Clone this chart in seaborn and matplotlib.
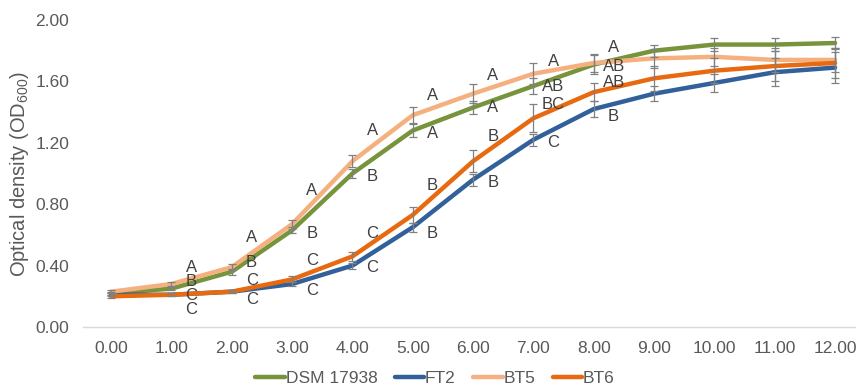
import numpy as np
import pandas as pd
import matplotlib
matplotlib.use('Agg')
import matplotlib.pyplot as plt
import seaborn as sns

# NOTE: growth curves, OD600
hours = [0, 1, 2, 3, 4, 5, 6, 7, 8, 9, 10, 11, 12]
strains = ['DSM 17938', 'FT2', 'BT5', 'BT6']

od_dsm = [0.22, 0.25, 0.36, 0.63, 1.00, 1.28, 1.43, 1.57, 1.71, 1.80, 1.84, 1.84, 1.85]
od_ft2 = [0.21, 0.21, 0.23, 0.28, 0.40, 0.65, 0.96, 1.22, 1.42, 1.52, 1.59, 1.66, 1.69]
od_bt5 = [0.23, 0.28, 0.39, 0.67, 1.08, 1.38, 1.52, 1.65, 1.72, 1.75, 1.76, 1.74, 1.74]
od_bt6 = [0.20, 0.21, 0.23, 0.31, 0.46, 0.73, 1.08, 1.36, 1.53, 1.62, 1.67, 1.70, 1.72]

err_dsm = [0.01, 0.01, 0.02, 0.02, 0.03, 0.04, 0.04, 0.05, 0.06, 0.04, 0.04, 0.04, 0.04]
err_ft2 = [0.01, 0.01, 0.01, 0.01, 0.02, 0.03, 0.04, 0.04, 0.05, 0.05, 0.06, 0.09, 0.10]
err_bt5 = [0.01, 0.01, 0.02, 0.03, 0.04, 0.05, 0.06, 0.07, 0.06, 0.06, 0.06, 0.08, 0.08]
err_bt6 = [0.01, 0.01, 0.01, 0.02, 0.03, 0.05, 0.07, 0.09, 0.06, 0.08, 0.08, 0.10, 0.10]

# NOTE: significance letters per time point (hour, letter, y of the letter)
letter_hours = [1, 1, 1, 1, 2, 2, 2, 2, 3, 3, 3, 3, 4, 4, 4, 4,
                5, 5, 5, 5, 6, 6, 6, 6, 7, 7, 7, 7, 8, 8, 8, 8]
letters = ['A', 'B', 'C', 'C', 'A', 'B', 'C', 'C', 'A', 'B', 'C', 'C', 'A', 'B', 'C', 'C',
           'A', 'A', 'B', 'B', 'A', 'A', 'B', 'B', 'A', 'AB', 'BC', 'C', 'A', 'AB', 'AB', 'B']
letter_y = [0.385, 0.295, 0.205, 0.115, 0.58, 0.42, 0.30, 0.18, 0.89, 0.61, 0.43, 0.24,
            1.28, 0.98, 0.61, 0.39, 1.51, 1.26, 0.92, 0.61, 1.64, 1.43, 1.24, 0.94,
            1.73, 1.57, 1.45, 1.20, 1.82, 1.70, 1.59, 1.37]

colores = {'DSM 17938': '#77933C', 'FT2': '#31609A', 'BT5': '#F5B080', 'BT6': '#E86A10'}

df = pd.DataFrame({
    'hora': hours * 4,
    'od': od_dsm + od_ft2 + od_bt5 + od_bt6,
    'err': err_dsm + err_ft2 + err_bt5 + err_bt6,
    'cepa': sum([[s] * len(hours) for s in strains], []),
})

sns.set_theme(style='white')
plt.rcParams['font.family'] = ['Liberation Sans', 'DejaVu Sans']
plt.rcParams['mathtext.fontset'] = 'custom'
plt.rcParams['mathtext.rm'] = 'Liberation Sans'
gris = '#595959'

fig = plt.figure(figsize=(8.58, 3.89), dpi=100)
ax = fig.add_axes([83 / 858, 1 - 327 / 389, (855 - 83) / 858, (327 - 20) / 389])

sns.lineplot(data=df, x='hora', y='od', hue='cepa', palette=colores, hue_order=strains,
             linewidth=3.2, ax=ax, sort=False, legend=True, zorder=2)

for s in strains:
    d = df[df['cepa'] == s]
    ax.errorbar(d['hora'], d['od'], yerr=d['err'], fmt='none', ecolor='#808080',
                elinewidth=0.9, capsize=3, capthick=0.9, zorder=3)

for h, t, y in zip(letter_hours, letters, letter_y):
    ax.text(h + 0.33, y, t, ha='center', va='center', fontsize=12, color='#404040', zorder=4)

ax.set_xlim(-0.465, 12.33)
ax.set_ylim(0, 2.0)
ax.set_xticks(hours)
ax.set_xticklabels([f'{h:.2f}' for h in hours])
ax.set_yticks([0, 0.4, 0.8, 1.2, 1.6, 2.0])
ax.set_yticklabels([f'{v:.2f}' for v in [0, 0.4, 0.8, 1.2, 1.6, 2.0]])
ax.tick_params(axis='both', length=0, labelsize=12.5, labelcolor=gris)
ax.tick_params(axis='x', pad=10)
ax.tick_params(axis='y', pad=10)

for lado in ['top', 'right', 'left']:
    ax.spines[lado].set_visible(False)
ax.spines['bottom'].set_color('#d9d9d9')
ax.spines['bottom'].set_linewidth(1.0)

ax.set_xlabel('')
ax.set_ylabel('Optical density (OD$_{600}$)', fontsize=14.5, color=gris, labelpad=3)

handles, labels = ax.get_legend_handles_labels()
ax.get_legend().remove()
fig.legend(handles, labels, loc='center', bbox_to_anchor=(0.507, 0.028), ncol=4,
           frameon=False, fontsize=12.5, handlelength=1.7, handletextpad=0.05,
           columnspacing=1.0, labelcolor=gris)

plt.savefig('out.png', dpi=100)
